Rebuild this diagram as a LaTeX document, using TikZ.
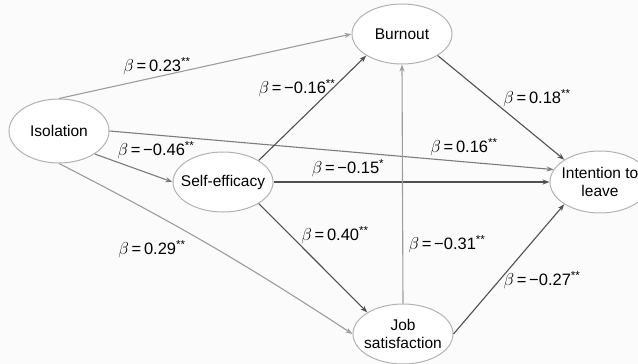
\documentclass[tikz,border=0pt]{standalone}
\usepackage{fontspec}
\setmainfont{Liberation Sans}
\usetikzlibrary{shapes.geometric, arrows.meta, positioning}
\definecolor{rim}{HTML}{B2B2B2}
\definecolor{darkline}{HTML}{505050}
\definecolor{midline}{HTML}{7C7C7C}
\definecolor{paleline}{HTML}{9C9C9C}
\definecolor{paper}{HTML}{FBFBFB}

\begin{document}
\begin{tikzpicture}[x=1pt, y=1pt, >={Stealth[length=7pt,width=5pt]}, line width=1.1pt,
  factor/.style={ellipse, draw=rim, fill=white, line width=1pt,
    minimum width=100pt, minimum height=60pt, inner xsep=-10pt, inner ysep=0pt,
    align=center, font=\fontsize{15.5}{18}\selectfont},
  coef/.style={inner sep=0pt, font=\fontsize{16.5}{18}\selectfont},
  strong/.style={->, draw=darkline},
  middle/.style={->, draw=midline},
  weak/.style={->, draw=paleline}]
  \useasboundingbox (0,0) rectangle (638,-364);
  \fill[paper] (0,0) rectangle (638,-364);

  \node[factor, minimum height=64pt] (isolation) at (59,-131) {Isolation};
  \node[factor] (burnout) at (402,-34) {Burnout};
  \node[factor] (efficacy) at (223,-182) {Self-efficacy};
  \node[factor] (jobsat) at (403,-334) {Job\\satisfaction};
  \node[factor, minimum height=62pt] (intention) at (600,-182) {Intention to\\leave};

  \draw[weak] (isolation.north) -- (burnout.west);
  \draw[middle] (isolation.south east) -- (efficacy.west);
  \draw[middle] (isolation.east) -- (intention.165);
  \draw[weak] (isolation.south) to[bend left=3] (jobsat.west);
  \draw[strong] (efficacy.north east) -- (burnout.south west);
  \draw[strong] (efficacy.east) -- (intention.west);
  \draw[strong] (efficacy.south east) -- (jobsat.north west);
  \draw[weak] (jobsat.north) -- (burnout.south);
  \draw[strong] (burnout.south east) -- (intention.north west);
  \draw[strong] (jobsat.east) -- (intention.south west);

  % path coefficients
  \node[coef] (c-iso-burn) at (157,-66) {$\beta$\,=\,0.23\textsuperscript{**}};
  \node[coef] (c-iso-eff) at (156,-150) {$\beta$\,=\,−0.46\textsuperscript{**}};
  \node[coef] (c-iso-int) at (464,-147) {$\beta$\,=\,0.16\textsuperscript{**}};
  \node[coef] (c-iso-job) at (152,-249) {$\beta$\,=\,0.29\textsuperscript{**}};
  \node[coef] (c-eff-burn) at (297,-88) {$\beta$\,=\,−0.16\textsuperscript{**}};
  \node[coef] (c-eff-int) at (348,-168) {$\beta$\,=\,−0.15\textsuperscript{*}};
  \node[coef] (c-eff-job) at (335,-235) {$\beta$\,=\,0.40\textsuperscript{**}};
  \node[coef] (c-job-burn) at (447,-244) {$\beta$\,=\,−0.31\textsuperscript{**}};
  \node[coef] (c-burn-int) at (537,-98) {$\beta$\,=\,0.18\textsuperscript{**}};
  \node[coef] (c-job-int) at (542,-280) {$\beta$\,=\,−0.27\textsuperscript{**}};
\end{tikzpicture}
\end{document}
